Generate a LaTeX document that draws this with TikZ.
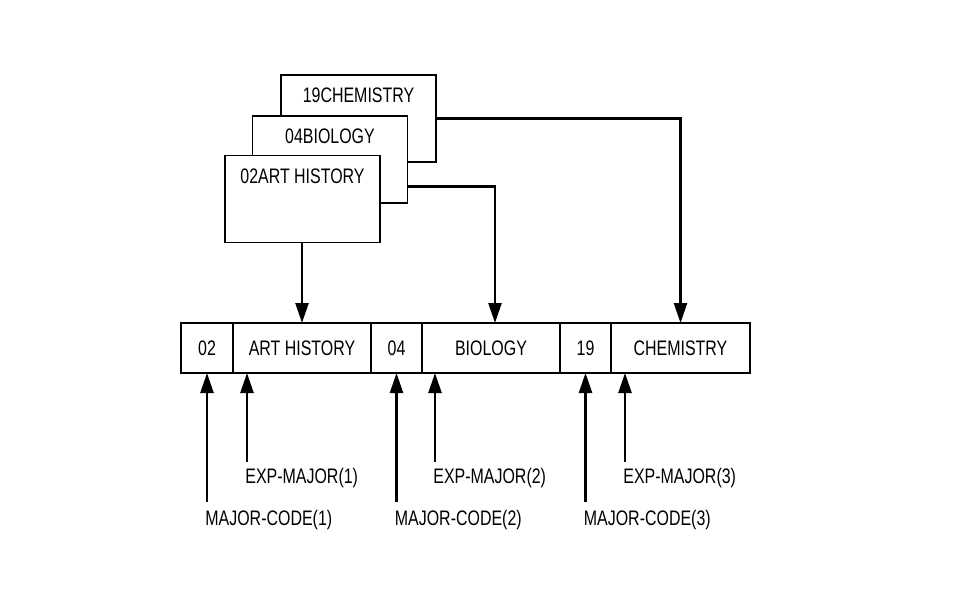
\documentclass[tikz,border=0pt]{standalone}
\usepackage{fontspec}
\setmainfont{Liberation Sans}[FakeStretch=0.76]
\usepackage{tikz}
\usetikzlibrary{arrows.meta,positioning,calc}
\newcommand{\recfont}{\fontsize{10.5}{12}\selectfont}

\begin{document}
\begin{tikzpicture}[x=0.5pt,y=-0.5pt,node distance=0pt,
  card/.style={draw,fill=white,line width=0.7pt,minimum width=77.5pt,text height=7.5pt,text depth=23pt,inner ysep=6.5pt,font=\recfont},
  cell/.style={draw,line width=0.7pt,minimum height=25pt,outer sep=0pt,inner sep=0pt,font=\recfont},
  lbl/.style={inner sep=0pt,anchor=north west,font=\recfont},
  arr/.style={line width=1.2pt,-{Triangle[length=10pt,width=6.5pt]}}]
  \useasboundingbox[fill=white] (0,0) rectangle (958,593);
  % stacked table cards
  \node[card] (c19) at (358.5,118.5) {19CHEMISTRY};
  \node[card] (c04) at (330,159.5) {04BIOLOGY};
  \node[card] (c02) at (302.5,199) {02ART HISTORY};
  % expanded record
  \node[cell,minimum width=26pt] (r02) at (207,348) {02};
  \node[cell,minimum width=69pt,right=of r02] (rart) {ART HISTORY};
  \node[cell,minimum width=25.5pt,right=of rart] (r04) {04};
  \node[cell,minimum width=69pt,right=of r04] (rbio) {BIOLOGY};
  \node[cell,minimum width=25.5pt,right=of rbio] (r19) {19};
  \node[cell,minimum width=69.5pt,right=of r19] (rchem) {CHEMISTRY};
  \draw[arr] (c19.east) -| (rchem.north);
  \draw[arr] ([yshift=-13.5pt]c04.east) -| ([xshift=2pt]rbio.north);
  \draw[arr] (rart.north |- c02.south) -- (rart.north);
  % subscripts
  \coordinate (m1) at ($(r02.south)+(0,129)$);
  \coordinate (m2) at ($(r04.south)+(0,129)$);
  \coordinate (m3) at ($(r19.south)+(0,129)$);
  \coordinate (e1) at ($(rart.south west)+(14,89)$);
  \coordinate (e2) at ($(rbio.south west)+(13,89)$);
  \coordinate (e3) at ($(rchem.south west)+(14,89)$);
  \draw[arr] (m1) -- (r02.south);
  \draw[arr] (m2) -- (r04.south);
  \draw[arr] (m3) -- (r19.south);
  \draw[arr] (e1) -- (e1 |- rart.south);
  \draw[arr] (e2) -- (e2 |- rbio.south);
  \draw[arr] (e3) -- (e3 |- rchem.south);
  \node[lbl,below right=4pt and -1pt of m1] (mc1) {MAJOR-CODE(1)};
  \node[lbl,below right=4pt and -1pt of m2] (mc2) {MAJOR-CODE(2)};
  \node[lbl,below right=4pt and -1pt of m3] (mc3) {MAJOR-CODE(3)};
  \node[lbl,below right=3pt and -1pt of e1] (em1) {EXP-MAJOR(1)};
  \node[lbl,below right=3pt and -1pt of e2] (em2) {EXP-MAJOR(2)};
  \node[lbl,below right=3pt and -1pt of e3] (em3) {EXP-MAJOR(3)};
\end{tikzpicture}
\end{document}
